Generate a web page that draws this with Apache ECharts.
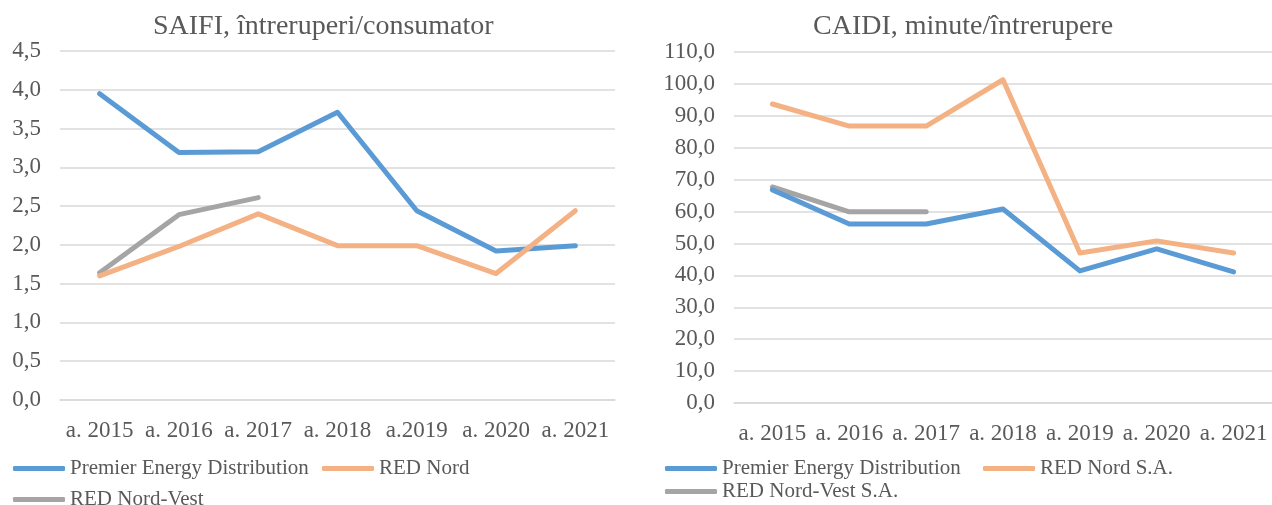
<!DOCTYPE html>
<html>
<head>
<meta charset="utf-8">
<script src="https://cdn.jsdelivr.net/npm/echarts@6/dist/echarts.min.js"></script>
<style>
  html, body { margin: 0; padding: 0; background: #fff; }
  #wrap { width: 1272px; height: 505px; position: relative; }
  .ch { position: absolute; top: 0; height: 505px; }
  #left { left: 0; width: 636px; }
  #right { left: 636px; width: 636px; }
</style>
</head>
<body>
<div id="wrap">
  <div id="left" class="ch"></div>
  <div id="right" class="ch"></div>
</div>
<script>
// date din grafic
const yearsLeft = ["a. 2015", "a. 2016", "a. 2017", "a. 2018", "a.2019", "a. 2020", "a. 2021"];
const yearsRight = ["a. 2015", "a. 2016", "a. 2017", "a. 2018", "a. 2019", "a. 2020", "a. 2021"];

const saifiPremier = [3.95, 3.19, 3.20, 3.71, 2.44, 1.92, 1.99];
const saifiNord = [1.60, 1.98, 2.40, 1.99, 1.99, 1.63, 2.44];
const saifiNordVest = [1.64, 2.39, 2.61, null, null, null, null];

const caidiPremier = [66.8, 56.1, 56.1, 60.8, 41.4, 48.3, 41.1];
const caidiNord = [93.7, 86.8, 86.8, 101.3, 47.0, 50.8, 47.0];
const caidiNordVest = [67.7, 59.9, 59.9, null, null, null, null];

const BLUE = "#5B9BD5", ORANGE = "#F4B183", GRAY = "#A5A5A5";
const FONT = "Liberation Serif";
const TXT = "#595959";

const fmt = v => v.toFixed(1).replace(".", ",");

function legend(name, left, top) {
  return {
    data: [name], left: left, top: top, padding: 0,
    icon: "roundRect", itemWidth: 52, itemHeight: 5, itemGap: 5,
    textStyle: { fontFamily: FONT, fontSize: 21, color: TXT },
    selectedMode: false
  };
}

function line(name, data, color) {
  return {
    name: name, type: "line", data: data, symbol: "none", smooth: false,
    lineStyle: { color: color, width: 5, cap: "round", join: "round" },
    itemStyle: { color: color }, z: color === GRAY ? 1 : 2
  };
}

function build(o) {
  return {
    animation: false,
    title: {
      text: o.title, left: o.titleLeft, top: 8,
      textStyle: { fontFamily: FONT, fontSize: 28, fontWeight: "normal", color: TXT }
    },
    legend: o.legends,
    grid: o.grid,
    xAxis: {
      type: "category", data: o.cats, boundaryGap: true,
      axisLine: { lineStyle: { color: "#D9D9D9", width: 1.5 } },
      axisTick: { show: false },
      axisLabel: { fontFamily: FONT, fontSize: 23, color: TXT, margin: 19, interval: 0 }
    },
    yAxis: {
      type: "value", min: 0, max: o.max, interval: o.step,
      axisLine: { show: false }, axisTick: { show: false },
      splitLine: { lineStyle: { color: "#D9D9D9", width: 1.5 } },
      axisLabel: { fontFamily: FONT, fontSize: 23, color: TXT, margin: 19, formatter: fmt }
    },
    series: o.series
  };
}

const left = echarts.init(document.getElementById("left"));
left.setOption(build({
  title: "SAIFI, întreruperi/consumator", titleLeft: 148,
  cats: yearsLeft, max: 4.5, step: 0.5,
  grid: { left: 60, right: 21, top: 51, bottom: 105 },
  legends: [
    legend("Premier Energy Distribution", 13, 458),
    legend("RED Nord", 322, 458),
    legend("RED Nord-Vest", 13, 489)
  ],
  series: [
    line("Premier Energy Distribution", saifiPremier, BLUE),
    line("RED Nord", saifiNord, ORANGE),
    line("RED Nord-Vest", saifiNordVest, GRAY)
  ]
}));

const right = echarts.init(document.getElementById("right"));
right.setOption(build({
  title: "CAIDI, minute/întrerupere", titleLeft: 172,
  cats: yearsRight, max: 110, step: 10,
  grid: { left: 98, width: 542, top: 52, bottom: 102 },
  legends: [
    legend("Premier Energy Distribution", 29, 458),
    legend("RED Nord S.A.", 347, 458),
    legend("RED Nord-Vest S.A.", 29, 481)
  ],
  series: [
    line("Premier Energy Distribution", caidiPremier, BLUE),
    line("RED Nord S.A.", caidiNord, ORANGE),
    line("RED Nord-Vest S.A.", caidiNordVest, GRAY)
  ]
}));
</script>
</body>
</html>
